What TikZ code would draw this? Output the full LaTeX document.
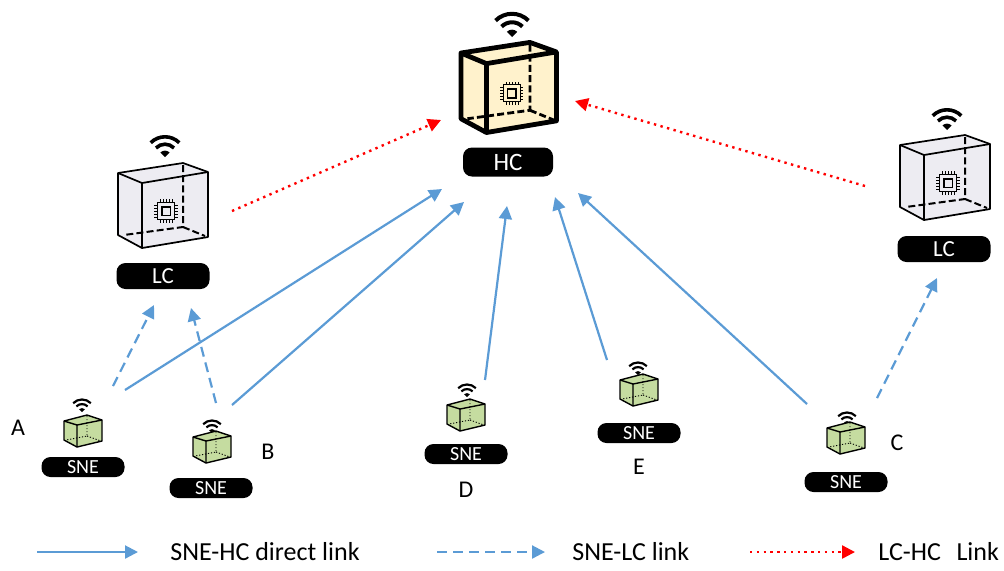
\documentclass[tikz,border=0pt]{standalone}
\usepackage{fontspec}
\setmainfont{Carlito}
\usetikzlibrary{arrows.meta,positioning}

\definecolor{linkblue}{HTML}{5B9BD5}
\definecolor{hcfill}{HTML}{FFF2CC}
\definecolor{lcfill}{HTML}{EDECF2}
\definecolor{snefill}{HTML}{C5DCA0}

\tikzset{
    % black name plates under the devices
    tag/.style={fill=black, text=white, rounded corners=4.5pt, inner sep=0pt},
    hctag/.style={tag, minimum width=45pt, minimum height=14.5pt, font=\fontsize{12.5}{14}\selectfont},
    lctag/.style={tag, minimum width=46.5pt, minimum height=13pt, font=\fontsize{11.5}{13}\selectfont},
    snetag/.style={tag, minimum width=41.5pt, minimum height=10pt, font=\fontsize{10}{11}\selectfont},
    letter/.style={font=\fontsize{12}{14}\selectfont},
    legendtext/.style={font=\fontsize{13}{15}\selectfont, anchor=west, inner sep=0pt},
    % links
    tip/.style={-{Triangle[length=6.5pt,width=6.5pt]}},
    direct/.style={tip, draw=linkblue, line width=1.1pt},
    lclink/.style={direct, dash pattern=on 5pt off 3pt},
    hclink/.style={tip, draw=red, line width=1.2pt, dash pattern=on 1.2pt off 2.2pt},
    % icons
    pics/wifi/.style={code={
        \fill (0,0) -- (45:3.2pt) arc[start angle=45,end angle=135,radius=3.2pt] -- cycle;
        \draw (45:6.4pt) arc[start angle=45,end angle=135,radius=6.4pt];
        \draw (45:10.1pt) arc[start angle=45,end angle=135,radius=10.1pt];
    }},
    pics/chip/.style={code={
        \draw[line width=0.5pt] (-4.2pt,-4.2pt) rectangle (4.2pt,4.2pt);
        \draw[line width=0.9pt] (-2.2pt,-2.2pt) rectangle (2.2pt,2.2pt);
        \foreach \p in {-3,-1.5,0,1.5,3} {
            \draw[line width=0.35pt]
                (\p*1pt,4.2pt) -- (\p*1pt,5.8pt) (\p*1pt,-4.2pt) -- (\p*1pt,-5.8pt)
                (4.2pt,\p*1pt) -- (5.8pt,\p*1pt) (-4.2pt,\p*1pt) -- (-5.8pt,\p*1pt);
        }
    }},
    % controller cabinet: fill / outline width / hidden edge width
    pics/cabinet/.style args={#1/#2/#3}{code={
        \draw[line width=#2, fill=#1, line join=round]
            (0,0) -- (65,-10) -- (90,-1) -- (90,64) -- (24,75) -- (0,62) -- cycle;
        \draw[line width=#2, line join=round] (0,0) -- (24,10) -- (90,-1) (24,10) -- (24,75);
        \draw[line width=#3, dash pattern=on 3.5pt off 1.6pt]
            (65,-8) -- (65,54) -- (6,62) (65,54) -- (87,63);
        \pic at (48,38) {chip};
    }},
    % small sensor node cube
    pics/snecube/.style={code={
        \draw[line width=0.7pt, fill=snefill, line join=round]
            (0,0) -- (23,-6) -- (38,-1) -- (38,20) -- (13,26) -- (0,19) -- cycle;
        \draw[line width=0.7pt] (0,0) -- (13,4) -- (38,-1) (13,4) -- (13,26);
        \draw[line width=0.45pt, dash pattern=on 0.6pt off 0.9pt]
            (23,-5) -- (23,15) -- (2,19) (23,15) -- (37,20);
    }}
}

\begin{document}
\begin{tikzpicture}[x=0.5pt, y=-0.5pt]
    \useasboundingbox (0,0) rectangle (1004,570);

    % head controller
    \pic[line width=2pt, scale=1.15] at (512,37) {wifi};
    \pic[scale=1.06] at (461,53) {cabinet={hcfill/2.4pt/1.4pt}};
    \node (hc) [hctag] at (508,162) {HC};

    % local controllers
    \pic[line width=1.8pt] at (165,157) {wifi};
    \pic at (118,173) {cabinet={lcfill/0.85pt/1pt}};
    \node (lcl) [lctag] at (163,276) {LC};

    \pic[line width=1.8pt] at (947,130) {wifi};
    \pic at (900,145) {cabinet={lcfill/0.85pt/1pt}};
    \node (lcr) [lctag] at (944,249) {LC};

    % sensor nodes
    \foreach \name/\wx/\wy/\cx/\cy/\tx/\ty in {
        snea/82/412/64/421/83/467,
        sneb/212/433/193/437/211/488,
        sned/467/397/447/405/466/454,
        snee/638/375/620/380/639/433,
        snec/847/425/827/428/846/482} {
        \pic[line width=1.1pt, scale=0.62] at (\wx,\wy) {wifi};
        \pic at (\cx,\cy) {snecube};
        \node (\name) [snetag] at (\tx,\ty) {SNE};
    }

    \node (laba) [letter] at (18,428) {A};
    \node (labb) [letter] at (268,452) {B};
    \node (labc) [letter] at (897,443) {C};
    \node (labd) [letter, below of=sned, node distance=18pt] {D};
    \node (labe) [letter, below of=snee, node distance=17pt] {E};

    % link end points
    \coordinate (a-hc) at (125,390);  \coordinate (hc-a) at (442,189);
    \coordinate (b-hc) at (232,405);  \coordinate (hc-b) at (464,202);
    \coordinate (d-hc) at (485,380);  \coordinate (hc-d) at (507,206);
    \coordinate (e-hc) at (607,360);  \coordinate (hc-e) at (555,197);
    \coordinate (c-hc) at (807,404);  \coordinate (hc-c) at (578,193);
    \coordinate (a-lc) at (113,386);  \coordinate (lc-a) at (154,305);
    \coordinate (b-lc) at (216,403);  \coordinate (lc-b) at (191,308);
    \coordinate (c-lc) at (877,398);  \coordinate (lc-c) at (937,278);
    \coordinate (lcl-hc) at (232,211); \coordinate (hc-lcl) at (441,120);
    \coordinate (lcr-hc) at (865,186); \coordinate (hc-lcr) at (575,101);

    \path
    (a-hc) edge[direct] (hc-a)
    (b-hc) edge[direct] (hc-b)
    (d-hc) edge[direct] (hc-d)
    (e-hc) edge[direct] (hc-e)
    (c-hc) edge[direct] (hc-c)
    (a-lc) edge[lclink] (lc-a)
    (b-lc) edge[lclink] (lc-b)
    (c-lc) edge[lclink] (lc-c)
    (lcl-hc) edge[hclink] (hc-lcl)
    (lcr-hc) edge[hclink] (hc-lcr)
    ;

    % legend
    \coordinate (key1) at (37,552);  \coordinate (key1e) at (138,552);
    \coordinate (key2) at (437,552); \coordinate (key2e) at (545,552);
    \coordinate (key3) at (750,552); \coordinate (key3e) at (855,552);
    \node (keytext1) [legendtext] at (170,552) {SNE-HC direct link};
    \node (keytext2) [legendtext] at (572,552) {SNE-LC link};
    \node (keytext3) [legendtext] at (878,552) {LC-HC\hspace{0.6em}Link};

    \path
    (key1) edge[direct] (key1e)
    (key2) edge[lclink] (key2e)
    (key3) edge[hclink] (key3e)
    ;
\end{tikzpicture}
\end{document}
